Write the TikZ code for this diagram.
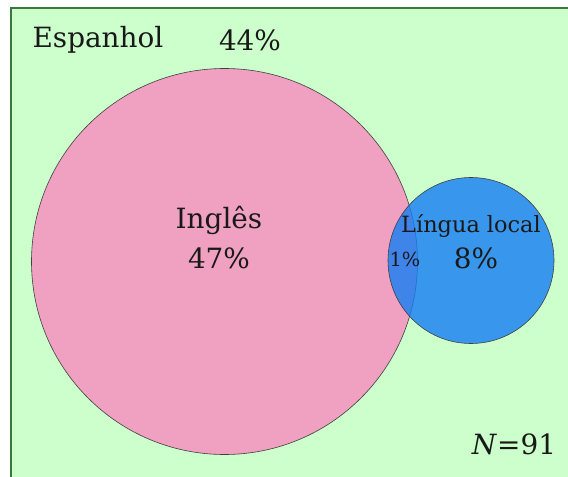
\documentclass[tikz,border=0pt]{standalone}
\usepackage{fontspec}
\setmainfont{DejaVu Serif}
\usetikzlibrary{shapes.geometric}
\definecolor{espgreen}{RGB}{204,255,204}
\definecolor{espedge}{RGB}{60,120,60}
\definecolor{ingpink}{RGB}{240,160,192}
\definecolor{locblue}{RGB}{19,126,244}
\tikzstyle{set} = [circle, draw=black!75, line width=0.6bp, inner sep=0pt]
\tikzstyle{big} = [font=\fontsize{28}{32}\selectfont, text=black!90, inner sep=0pt]
\tikzstyle{mid} = [font=\fontsize{22.5}{26}\selectfont, text=black!90, inner sep=0pt]
\tikzstyle{small} = [font=\fontsize{19.5}{22}\selectfont, text=black!90, inner sep=0pt]

\begin{document}
\begin{tikzpicture}[x=1bp,y=-1bp]

\useasboundingbox [fill=white] (0,0) rectangle (568,477);
\begin{scope}
\clip (0,0) rectangle (568,477);
\draw [fill=espgreen, draw=espedge, line width=1.5bp] (11,8) rectangle (590,500);
\end{scope}

\node (ingles) [set, fill=ingpink, minimum size=386bp] at (224.5,261.5) {};
\node (local) [set, fill=locblue, fill opacity=0.8, minimum size=166bp] at (471,260.5) {};

\node (espanhol) [big] at (98,40) {Espanhol};
\node (espval) [big] at (250,40) {44\%};
\node (ingname) [big] at (219,220) {Inglês};
\node (ingval) [big] at (219,258) {47\%};
\node (locname) [mid] at (471,226) {Língua local};
\node (locval) [big] at (476,258) {8\%};
\node (both) [small] at (405,259) {1\%};
\node (total) [big] at (514,444) {\textit{N}=91};

\end{tikzpicture}
\end{document}
